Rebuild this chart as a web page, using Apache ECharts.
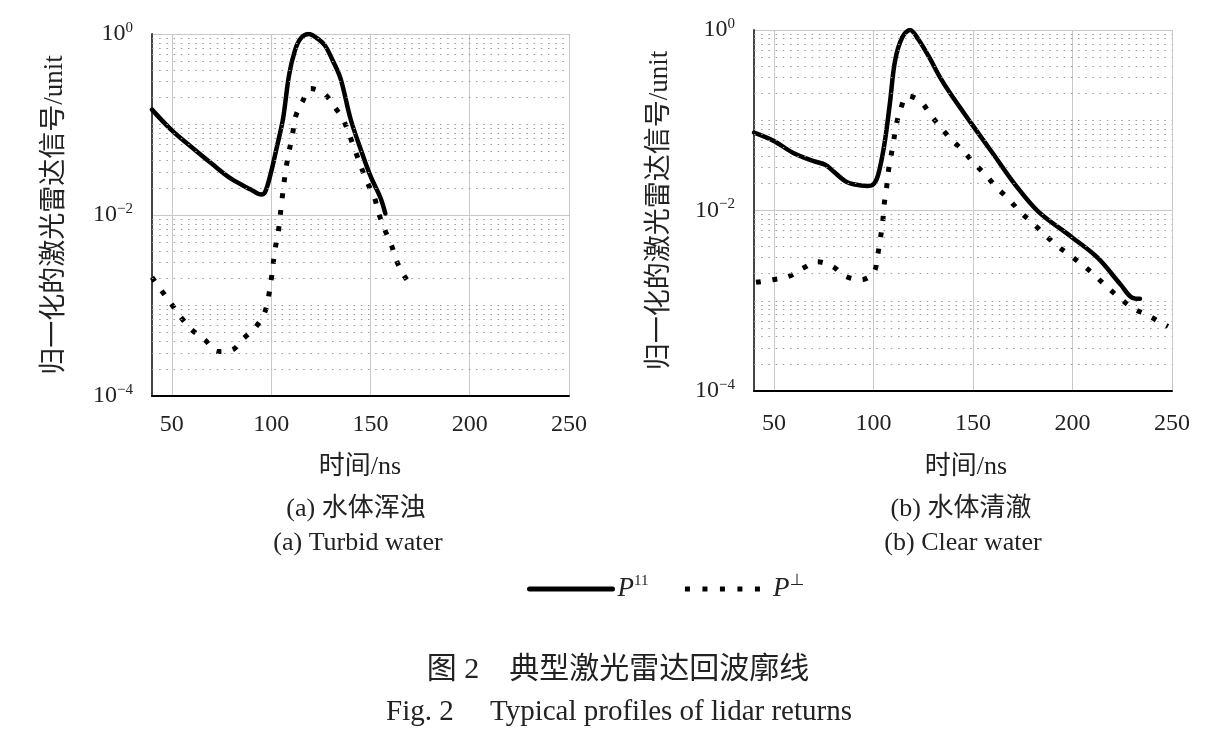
<!DOCTYPE html>
<html>
<head>
<meta charset="utf-8">
<script src="https://cdn.jsdelivr.net/npm/echarts@6/dist/echarts.min.js"></script>
<style>
html,body{margin:0;padding:0;background:#fff;}
#main{width:1213px;height:748px;}
</style>
</head>
<body>
<div id="main"></div>
<script>
// ---- data (time in ns, normalized lidar signal) ----
const turbidParTime = [40, 50, 60, 70, 80, 90, 95, 97, 100, 103, 106, 109, 112, 115, 119, 123, 127, 131, 135, 140, 145, 150, 155, 157.5];
const turbidParVal  = [0.146, 0.086, 0.056, 0.037, 0.025, 0.019, 0.0168, 0.018, 0.030, 0.058, 0.116, 0.35, 0.66, 0.9, 1.0, 0.9, 0.75, 0.51, 0.32, 0.115, 0.054, 0.027, 0.0156, 0.0104];

const turbidPerpTime = [40, 45, 50, 55, 60, 67, 73, 80, 86, 92, 96.5, 98.5, 100, 102, 103.6, 105.4, 107.6, 110.8, 112.5, 115.7, 120, 126.6, 132, 136.5, 142.5, 148, 152, 154, 157.3, 160.5, 163.2, 167.2, 171.7];
const turbidPerpVal  = [0.00205, 0.00144, 0.00102, 0.00072, 0.00054, 0.00041, 0.00031, 0.00032, 0.00043, 0.00057, 0.00081, 0.0012, 0.0019, 0.0042, 0.0065, 0.0144, 0.034, 0.079, 0.126, 0.178, 0.25, 0.22, 0.156, 0.111, 0.05, 0.024, 0.0156, 0.0107, 0.0068, 0.0047, 0.0031, 0.0021, 0.00154];

const clearParTime = [40, 50, 60, 70, 76, 80, 86, 90, 97, 100, 102.4, 105.5, 108.2, 110.9, 114.5, 118.4, 122.5, 128, 133.4, 138.8, 149.5, 160.3, 171.1, 182.7, 200, 212.6, 224.3, 230, 233.9];
const clearParVal  = [0.073, 0.059, 0.043, 0.0353, 0.032, 0.027, 0.021, 0.0195, 0.0187, 0.0195, 0.025, 0.054, 0.15, 0.46, 0.83, 1.0, 0.79, 0.50, 0.30, 0.195, 0.09, 0.042, 0.0195, 0.0098, 0.005, 0.003, 0.0015, 0.00108, 0.00105];

const clearPerpTime = [41, 49.5, 57.6, 64.8, 71.9, 79.5, 85.8, 93.8, 100.1, 101.9, 103.3, 104.6, 105.5, 106.4, 107.8, 109.9, 111.4, 113.5, 117.1, 123.7, 128.8, 134.1, 139.5, 145.4, 150.8, 156.2, 161.9, 168.2, 173.6, 179.9, 186.1, 192.1, 198.7, 205, 211.3, 217.6, 223.9, 230.1, 237.3, 244.5, 248];
const clearPerpVal  = [0.0016, 0.00171, 0.00187, 0.0023, 0.0027, 0.0024, 0.00187, 0.00171, 0.00204, 0.0030, 0.0046, 0.0073, 0.0122, 0.0164, 0.030, 0.054, 0.087, 0.129, 0.187, 0.161, 0.114, 0.082, 0.060, 0.045, 0.033, 0.025, 0.018, 0.0132, 0.0097, 0.0073, 0.0054, 0.0041, 0.0032, 0.0025, 0.0019, 0.0014, 0.00107, 0.00083, 0.0007, 0.00057, 0.00052];

const seriesNames = ['P11', 'P⊥'];
const yAxisName = '归一化的激光雷达信号/unit';
const xAxisName = '时间/ns';
const subTitlesCN = ['(a) 水体浑浊', '(b) 水体清澈'];
const subTitlesEN = ['(a) Turbid water', '(b) Clear water'];
const figTitleCN = '图 2　典型激光雷达回波廓线';
const figTitleEN = 'Fig. 2　 Typical profiles of lidar returns';

// ---- helpers ----
const zip = (xs, ys) => xs.map((x, i) => [x, ys[i]]);
const SERIF = '"Liberation Serif", "Times New Roman", "Noto Sans CJK SC", serif';

const minorGrid = [];
for (let d = -4; d <= -1; d++) {
  for (let k = 1; k <= 9; k++) {
    if (k === 1 && (d === -4 || d === -2)) continue;
    minorGrid.push(k * Math.pow(10, d));
  }
}

const grids = [
  {left: 152, top: 34, width: 417, height: 362},
  {left: 754, top: 30, width: 418, height: 361}
];

const xAxes = grids.map((g, i) => ({
  type: 'value', gridIndex: i, min: 40, max: 250, splitNumber: 4,
  axisLine: {show: true, onZero: false, lineStyle: {color: '#000', width: 2}},
  axisTick: {show: false},
  axisLabel: {showMinLabel: false, color: '#222', fontFamily: SERIF, fontSize: 24, margin: i === 0 ? 17 : 21},
  splitLine: {show: true, lineStyle: {color: '#c8c8c8', width: 1}}
}));

function expLabel(v) {
  const e = Math.round(Math.log10(v));
  const s = e < 0 ? '−' + (-e) : String(e);
  return '{b|10}{s|' + s + '}';
}

const yAxes = grids.map((g, i) => ({
  type: 'log', logBase: 100, gridIndex: i, min: 1e-4, max: 1,
  name: yAxisName, nameLocation: 'middle', nameRotate: 90, nameGap: i === 0 ? 84 : 81,
  nameTextStyle: {fontFamily: SERIF, fontSize: 27, color: '#222'},
  axisLine: {show: true, lineStyle: {color: '#444', width: 2}},
  axisTick: {show: false},
  axisLabel: {
    formatter: expLabel, margin: 19,
    rich: {
      b: {fontFamily: SERIF, fontSize: 24, color: '#222', lineHeight: 27},
      s: {fontFamily: SERIF, fontSize: 15, color: '#222', verticalAlign: 'top', lineHeight: 15}
    }
  },
  splitLine: {show: true, lineStyle: {color: '#c8c8c8', width: 1}}
}));

const series = [];
const datasets = [
  [zip(turbidParTime, turbidParVal), zip(turbidPerpTime, turbidPerpVal)],
  [zip(clearParTime, clearParVal), zip(clearPerpTime, clearPerpVal)]
];
datasets.forEach((pair, i) => {
  series.push({
    type: 'line', xAxisIndex: i, yAxisIndex: i, data: [], silent: true, z: 1,
    markLine: {
      silent: true, symbol: ['none', 'none'], label: {show: false}, precision: 8,
      lineStyle: {color: '#9a9a9a', width: 1.2, type: [1.5, 5.7]},
      emphasis: {disabled: true},
      data: minorGrid.map(v => ({yAxis: v}))
    }
  });
  series.push({
    name: seriesNames[0], type: 'line', xAxisIndex: i, yAxisIndex: i, z: 3,
    data: pair[0], showSymbol: false, symbol: 'none', smooth: 0.35,
    lineStyle: {color: '#000', width: 4.5, cap: 'round', join: 'round'},
    itemStyle: {color: '#000'}
  });
  series.push({
    name: seriesNames[1], type: 'line', xAxisIndex: i, yAxisIndex: i, z: 3,
    data: pair[1], showSymbol: false, symbol: 'none', smooth: 0.35,
    lineStyle: {color: '#000', width: 5, type: [5, 11.5], cap: 'butt'},
    itemStyle: {color: '#000'}
  });
});

const textEl = (text, x, y, size) => ({
  type: 'text', x: x, y: y, silent: true,
  style: {text: text, font: size + 'px ' + SERIF, fill: '#222', align: 'center', verticalAlign: 'middle'}
});

const graphics = [
  textEl(xAxisName, 360, 467, 26),
  textEl(xAxisName, 966, 467, 26),
  textEl(subTitlesCN[0], 356, 509, 26),
  textEl(subTitlesEN[0], 358, 543, 26),
  textEl(subTitlesCN[1], 961, 509, 26),
  textEl(subTitlesEN[1], 963, 543, 26),
  textEl(figTitleCN, 618, 670, 30),
  textEl(figTitleEN, 619, 712, 29)
];

const chart = echarts.init(document.getElementById('main'), null, {renderer: 'canvas'});
chart.setOption({
  backgroundColor: '#fff',
  animation: false,
  grid: grids,
  xAxis: xAxes,
  yAxis: yAxes,
  legend: {
    data: [
      {name: seriesNames[0], lineStyle: {width: 5, type: 'solid', color: '#000'}},
      {name: seriesNames[1], lineStyle: {width: 5, type: [5, 12.5], color: '#000'}}
    ],
    left: 527, top: 574, padding: 0, itemWidth: 83, itemHeight: 14, itemGap: 34,
    itemStyle: {opacity: 0},
    formatter: n => n === seriesNames[0] ? '{p|P}{s|11}' : '{p|P}{s|⊥}',
    textStyle: {
      rich: {
        p: {fontFamily: SERIF, fontStyle: 'italic', fontSize: 27, color: '#222', lineHeight: 30},
        s: {fontFamily: SERIF, fontSize: 15, color: '#222', verticalAlign: 'top', lineHeight: 15}
      }
    }
  },
  graphic: graphics,
  series: series
});
</script>
</body>
</html>
